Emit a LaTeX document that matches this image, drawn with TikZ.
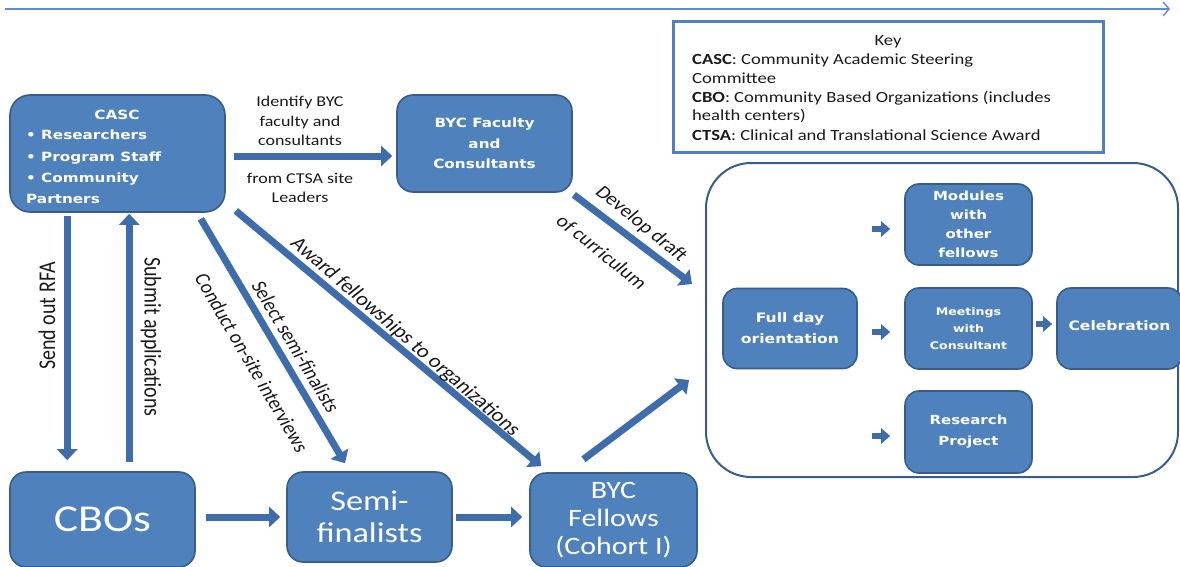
\documentclass[tikz,border=0pt]{standalone}
\usepackage{fontspec}
\setmainfont{Carlito}[FakeStretch=1.2]
\newfontfamily\rotfont{Carlito}
\newfontfamily\boxfont{DejaVu Sans}[FakeStretch=1.2]
\usetikzlibrary{arrows.meta,calc}
\definecolor{boxfill}{HTML}{4F81BD}
\definecolor{boxline}{HTML}{385D8A}
\definecolor{arrowblue}{HTML}{3F6DAB}
\definecolor{timeline}{HTML}{5E8ECC}
\definecolor{labeltext}{HTML}{1A1A1A}
\newcommand{\fs}[2]{\fontsize{#1}{#2}\selectfont}

\begin{document}
\begin{tikzpicture}[x=1pt,y=-1pt,
  box/.style={draw=boxline, line width=1.6pt, fill=boxfill, rounded corners=14pt,
              inner sep=0pt, text=white, align=center},
  boxtxt/.style={text=white, align=center, inner sep=0pt, font=\boxfont\bfseries\fs{12.7}{20}},
  lbl/.style={inner sep=0pt, align=center, text=labeltext, font=\fs{15}{19.5}},
  rotlbl/.style={inner sep=0pt, xscale=1.2, text=labeltext, font=\rotfont\fs{18}{20}},
  bigarrow/.style={draw=arrowblue, line width=7pt, -{Triangle[length=11pt,width=20pt]}},
  smallarrow/.style={draw=arrowblue, line width=6pt, -{Triangle[length=9pt,width=15pt]}},
  keyline/.style={anchor=base west, inner sep=0pt, text=labeltext, font=\fs{15.5}{18}},
]
\useasboundingbox (0,0) rectangle (1180,567);

% time line along the top
\coordinate (tlstart) at (5,9);
\coordinate (tlend) at (1170,9);
\draw[timeline, line width=1.4pt, -{Straight Barb[length=6pt,width=14pt]}] (tlstart) -- (tlend);

% key
\node[draw=boxfill, line width=3pt, minimum width=430pt, minimum height=130pt, inner sep=0pt]
  (key) at (888,87) {};
\node[anchor=base, inner sep=0pt, text=labeltext, font=\fs{15.5}{18}] (keytitle) at (888,46) {Key};
\node[keyline] (key1) at (692,65) {\textbf{CASC}: Community Academic Steering};
\node[keyline] (key2) at (692,84) {Committee};
\node[keyline] (key3) at (692,103) {\textbf{CBO}: Community Based Organizations (includes};
\node[keyline] (key4) at (692,121) {health centers)};
\node[keyline] (key5) at (692,140) {\textbf{CTSA}: Clinical and Translational Science Award};

% upper boxes
\node[box, rounded corners=20pt, minimum width=215pt, minimum height=117pt] (casc) at (117.5,153.5) {};
\node[boxtxt] (casctitle) at (117,115) {CASC};
\node[boxtxt, anchor=north west, align=left, font=\boxfont\bfseries\fs{12.7}{21.3}] (casclist) at (26,130)
  {• Researchers\\• Program Staff\\• Community\\Partners};
\node[box, rounded corners=16pt, minimum width=175pt, minimum height=97pt,
      font=\boxfont\bfseries\fs{12.7}{20.5}] (bycf) at (484.5,143.5) {BYC Faculty\\and\\Consultants};

% lower boxes
\node[box, rounded corners=16pt, minimum width=185pt, minimum height=95pt, font=\fs{38}{40}]
  (cbo) at (102.5,519.5) {CBOs};
\node[box, rounded corners=16pt, minimum width=165pt, minimum height=90pt, font=\fs{28.5}{32}]
  (semi) at (369.5,517) {Semi-\\finalists};
\node[box, rounded corners=16pt, minimum width=167pt, minimum height=94pt, font=\fs{25}{28}]
  (fellows) at (613.5,520) {BYC\\Fellows\\(Cohort I)};

% fellowship phase
\node[draw=boxline, line width=2pt, rounded corners=45pt, minimum width=472pt, minimum height=314pt,
      inner sep=0pt] (phase) at (942,320) {};
\node[box, minimum width=134pt, minimum height=80pt, font=\boxfont\bfseries\fs{13}{21}]
  (orient) at (790,328.5) {Full day\\orientation};
\node[box, minimum width=127pt, minimum height=81pt, font=\boxfont\bfseries\fs{12.5}{19}]
  (modules) at (968.5,224.5) {Modules\\with\\other\\fellows};
\node[box, minimum width=127pt, minimum height=81pt, font=\boxfont\bfseries\fs{10.5}{17}]
  (meetings) at (968.5,328.5) {Meetings\\with\\Consultant};
\node[box, minimum width=125pt, minimum height=81pt, font=\boxfont\bfseries\fs{13}{21}]
  (celeb) at (1119.5,328.5) {\raisebox{6pt}{Celebration}};
\node[box, minimum width=127pt, minimum height=82pt, font=\boxfont\bfseries\fs{12.5}{21}]
  (research) at (968.5,432) {Research\\Project};

% connectors
\draw[bigarrow] ($(casc.east)+(8,2.5)$) -- ($(bycf.west)+(-4,12.5)$);
\draw[bigarrow] ($(casc.south west)+(58,3)$) -- ($(cbo.north west)+(58,-11)$);
\draw[bigarrow] ($(cbo.north west)+(120,-9)$) -- ($(casc.south west)+(120,1)$);
\draw[bigarrow] ($(casc.south east)+(-25,6)$) -- ($(semi.north)+(-24.5,-8)$);
\draw[bigarrow] ($(casc.south east)+(10,-2)$) -- ($(fellows.north west)+(12,-6)$);
\draw[bigarrow] ($(bycf.south east)+(1,2)$) -- ($(phase.west)+(-13,-36)$);
\draw[bigarrow] ($(fellows.north)+(-30,-13)$) -- ($(phase.west)+(-16,60)$);
\draw[bigarrow] ($(cbo.east)+(10,-2.5)$) -- ($(semi.west)+(-6,0)$);
\draw[bigarrow] ($(semi.east)+(3,0)$) -- ($(fellows.west)+(-7,-3)$);

\draw[smallarrow] ($(modules.west)+(-32,4.5)$) -- ($(modules.west)+(-14,4.5)$);
\draw[smallarrow] ($(meetings.west)+(-32,3.5)$) -- ($(meetings.west)+(-14,3.5)$);
\draw[smallarrow] ($(research.west)+(-32,4)$) -- ($(research.west)+(-14,4)$);
\draw[smallarrow] ($(meetings.east)+(3,-4.5)$) -- ($(celeb.west)+(-4,-4.5)$);

% connector labels
\node[lbl] (identify) at (300,121) {Identify BYC\\faculty and\\consultants};
\node[lbl] (fromctsa) at (300,188) {from CTSA site\\Leaders};
\node[rotlbl, font=\rotfont\fs{20}{22}, rotate=90] (sendrfa) at (47,316) {Send out RFA};
\node[rotlbl, font=\rotfont\fs{20}{22}, rotate=-90] (submit) at (151,337) {Submit applications};
\node[rotlbl, rotate=-63.4] (select) at (296,347) {Select semi-finalists};
\node[rotlbl, rotate=-64] (conduct) at (252,363) {Conduct on-site interviews};
\node[rotlbl, font=\rotfont\fs{19}{21}, rotate=-46] (award) at (405,337) {Award fellowships to organizations};
\node[rotlbl, rotate=-44] (develop) at (641,224) {Develop draft};
\node[rotlbl, rotate=-44] (curric) at (602,252) {of curriculum};
\end{tikzpicture}
\end{document}
